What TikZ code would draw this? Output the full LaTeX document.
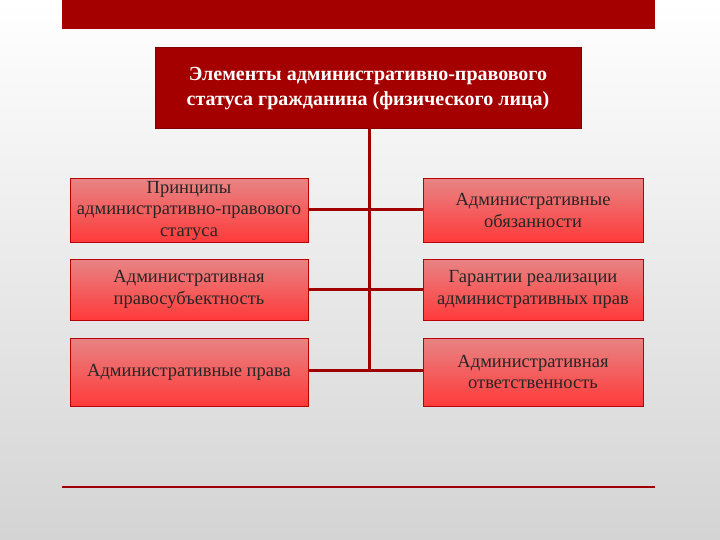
\documentclass[tikz,border=0pt]{standalone}
\usepackage{fontspec}
\setmainfont{Liberation Serif}
\definecolor{darkred}{HTML}{A50000}
\definecolor{linered}{HTML}{A00000}
\definecolor{boxtop}{HTML}{E88484}
\definecolor{boxbot}{HTML}{FF3A3A}
\definecolor{boxborder}{HTML}{B80000}
\definecolor{bgbot}{HTML}{D4D4D4}
\begin{document}
\begin{tikzpicture}[x=1pt,y=-1pt,
  elem/.style={draw=boxborder, line width=1pt, top color=boxtop, bottom color=boxbot,
    align=center, inner sep=2pt, font=\fontsize{18.5}{21.5}\selectfont, text=black!85},
  mainbox/.style={fill=darkred, draw=darkred!80!black, line width=1pt, align=center, text=white,
    font=\fontsize{20}{25}\selectfont\bfseries},
  conn/.style={draw=linered, line width=3pt}]
\useasboundingbox (0,0) rectangle (720,540);
\shade[top color=white, bottom color=bgbot] (0,0) rectangle (720,540);
\fill[darkred] (62,0) rectangle (655,29);
\coordinate (bl) at (62,487);
\coordinate (br) at (655,487);
\draw[linered, line width=2.5pt] (bl) -- (br);

\node[mainbox, minimum width=426pt, minimum height=81pt] (main) at (368,88.5)
  {Элементы административно-правового\\статуса гражданина (физического лица)};

\node[elem, minimum width=238pt, minimum height=63pt] (l1) at (189,210.5)
  {Принципы\\административно-правового\\статуса};
\node[elem, minimum width=238pt, minimum height=61pt] (l2) at (189,289.5)
  {Административная\\правосубъектность};
\node[elem, minimum width=238pt, minimum height=68pt] (l3) at (189,372)
  {Административные права};

\node[elem, minimum width=220pt, minimum height=63pt] (r1) at (533,210.5)
  {Административные\\обязанности};
\node[elem, minimum width=220pt, minimum height=61pt] (r2) at (533,289.5)
  {Гарантии реализации\\административных прав};
\node[elem, minimum width=220pt, minimum height=68pt] (r3) at (533,372)
  {Административная\\ответственность};

\coordinate (vend) at (369,371.5);
\draw[conn] (main.south -| vend) -- (vend);
\draw[conn] (l1.east |- 0,210) -- (r1.west |- 0,210);
\draw[conn] (l2.east |- 0,289) -- (r2.west |- 0,289);
\draw[conn] (l3.east |- 0,370) -- (r3.west |- 0,370);
\end{tikzpicture}
\end{document}
